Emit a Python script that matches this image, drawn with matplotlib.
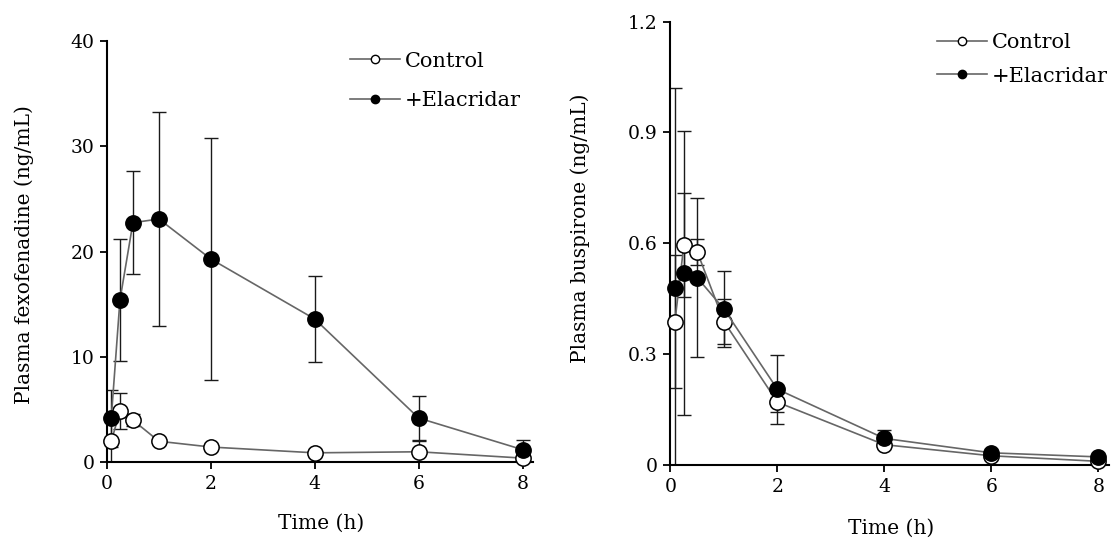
import matplotlib
matplotlib.use('Agg')
import matplotlib.pyplot as plt
from matplotlib.lines import Line2D

plt.rcParams['font.family'] = ['DejaVu Serif']

time_h = [0.083, 0.25, 0.5, 1, 2, 4, 6, 8]
x_ticks = [0, 2, 4, 6, 8]

# fexofenadine (ng/mL)
fexo_control = [2.0, 4.85, 4.0, 2.0, 1.45, 0.9, 1.0, 0.4]
fexo_control_sd = [2.2, 1.7, 0.6, 0.3, 0.3, 0.2, 1.05, 0.3]
fexo_elac = [4.2, 15.4, 22.75, 23.1, 19.3, 13.6, 4.2, 1.2]
fexo_elac_sd = [2.7, 5.8, 4.9, 10.2, 11.5, 4.1, 2.05, 0.9]
fexo_yticks = [0, 10, 20, 30, 40]

# buspirone (ng/mL)
busp_control = [0.388, 0.595, 0.577, 0.388, 0.170, 0.055, 0.025, 0.010]
busp_control_sd = [0.18, 0.14, 0.035, 0.06, 0.026, 0.008, 0.005, 0.004]
busp_elac = [0.480, 0.520, 0.507, 0.422, 0.205, 0.072, 0.033, 0.022]
busp_elac_sd = [0.54, 0.385, 0.216, 0.104, 0.093, 0.024, 0.008, 0.006]
busp_yticks = [0, 0.3, 0.6, 0.9, 1.2]
busp_ylabels = ['0', '0.3', '0.6', '0.9', '1.2']

FS = 13.5      # tick labels
LFS = 14.5     # axis labels
LEG_FS = 15
LINE_C = '0.4'


def draw_panel(ax, ctrl, ctrl_sd, elac, elac_sd, ylim, yticks, yticklabels, ylabel):
    for y, sd, face in ((ctrl, ctrl_sd, 'white'), (elac, elac_sd, 'black')):
        ax.errorbar(time_h, y, yerr=sd, fmt='none', ecolor='0.1',
                    elinewidth=1.0, capsize=4.8, capthick=1.0, zorder=2)
        ax.plot(time_h, y, color=LINE_C, lw=1.2, marker='o', ms=11,
                mfc=face, mec='black', mew=1.1, zorder=3, clip_on=False)
    ax.set_xlim(0, 8.2)
    ax.set_ylim(*ylim)
    ax.set_xticks(x_ticks)
    ax.set_yticks(yticks)
    ax.set_yticklabels(yticklabels)
    for s in ('top', 'right'):
        ax.spines[s].set_visible(False)
    for s in ('left', 'bottom'):
        ax.spines[s].set_linewidth(1.5)
    ax.tick_params(direction='out', length=5, width=1.3, labelsize=FS, pad=4)
    ax.set_xlabel('Time (h)', fontsize=LFS)
    ax.set_ylabel(ylabel, fontsize=LFS)


fig = plt.figure(figsize=(11.13, 5.43), dpi=100)
ax1 = fig.add_axes([0.0961, 0.1486, 0.3828, 0.7759])
ax2 = fig.add_axes([0.6024, 0.1436, 0.3940, 0.8168])

draw_panel(ax1, fexo_control, fexo_control_sd, fexo_elac, fexo_elac_sd,
           (0, 40), fexo_yticks, [str(v) for v in fexo_yticks],
           'Plasma fexofenadine (ng/mL)')
draw_panel(ax2, busp_control, busp_control_sd, busp_elac, busp_elac_sd,
           (0, 1.2), busp_yticks, busp_ylabels,
           'Plasma buspirone (ng/mL)')

ax1.yaxis.set_label_coords(-0.171, 0.493)
ax2.yaxis.set_label_coords(-0.184, 0.534)
ax1.xaxis.set_label_coords(0.502, -0.122)
ax2.xaxis.set_label_coords(0.504, -0.122)

handles = [
    Line2D([], [], color=LINE_C, lw=1.2, marker='o', ms=6, mfc='white', mec='black', mew=1),
    Line2D([], [], color=LINE_C, lw=1.2, marker='o', ms=6, mfc='black', mec='black', mew=1),
]
names = ['Control', '+Elacridar']
ax1.legend(handles, names, loc='upper left', bbox_to_anchor=(0.57, 0.975),
           frameon=False, fontsize=LEG_FS, handlelength=2.4, handletextpad=0.25,
           labelspacing=0.98, borderpad=0, borderaxespad=0)
ax2.legend(handles, names, loc='upper left', bbox_to_anchor=(0.607, 0.973),
           frameon=False, fontsize=LEG_FS, handlelength=2.4, handletextpad=0.25,
           labelspacing=0.68, borderpad=0, borderaxespad=0)

fig.savefig('out.png', dpi=100)
